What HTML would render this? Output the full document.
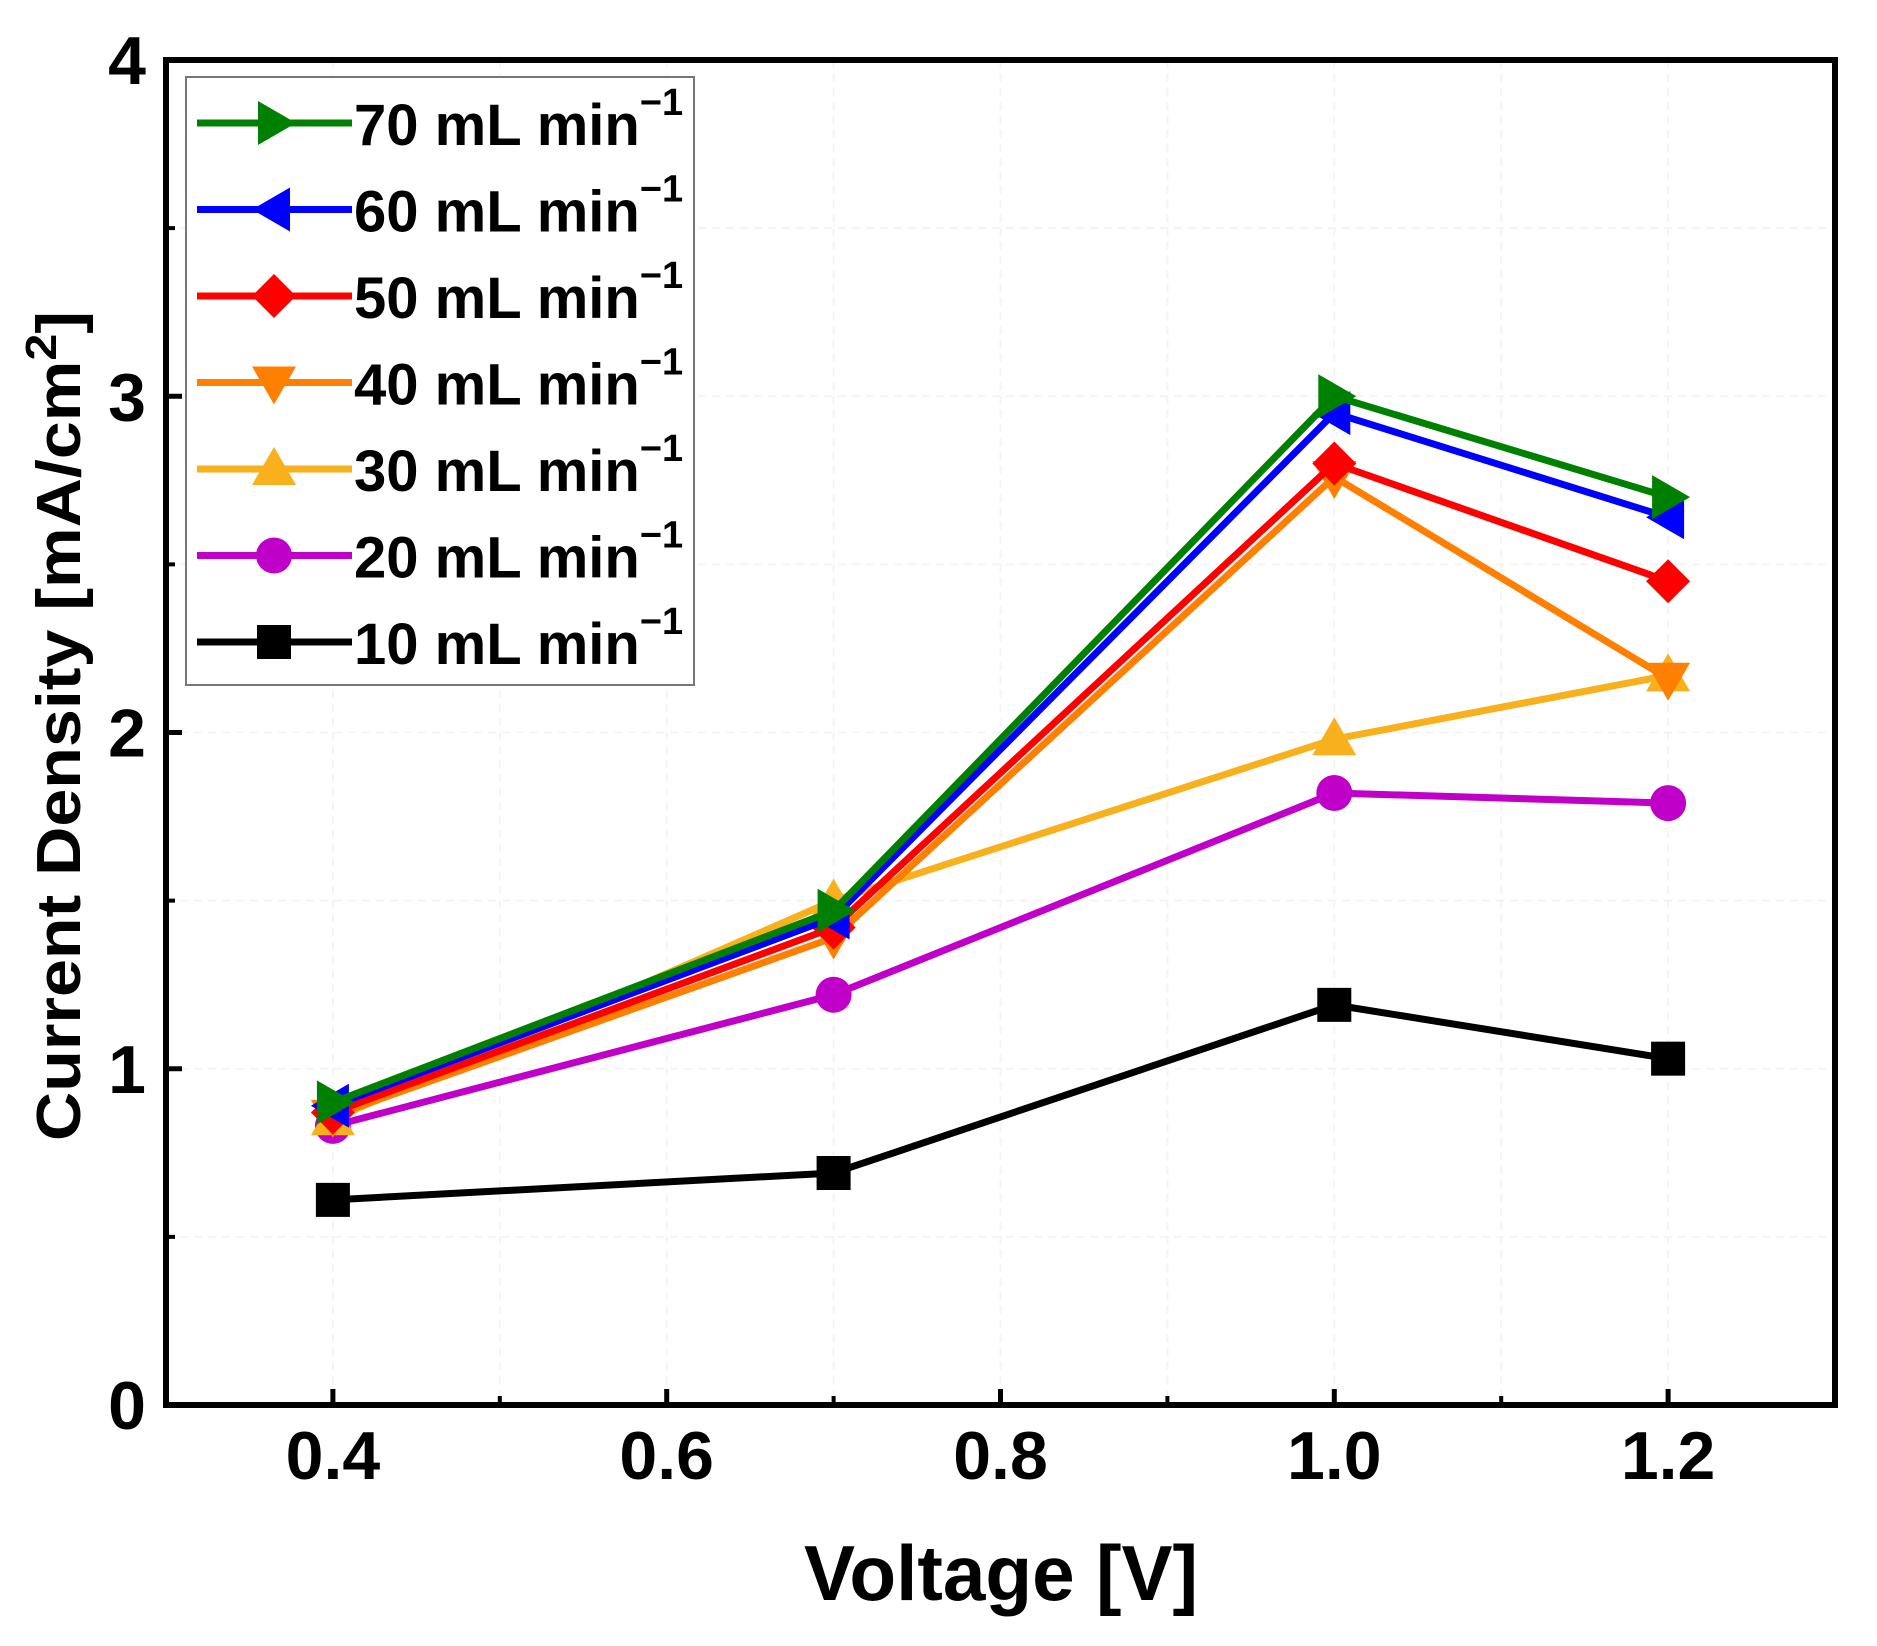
<!DOCTYPE html>
<html><head><meta charset="utf-8"><style>
html,body{margin:0;padding:0;background:#fff;}
svg{display:block;font-family:"Liberation Sans",Arial,sans-serif;font-weight:bold;}
</style></head><body>
<svg id="chart" width="1877" height="1646" viewBox="0 0 1877 1646" xmlns="http://www.w3.org/2000/svg">
<g id="grid"></g>
<g id="series"></g>
<g id="axes"></g>
<g id="legend"></g>
</svg>
<script>
const voltages = [0.4, 0.7, 1.0, 1.2];
const seriesNames = ["10 mL min", "20 mL min", "30 mL min", "40 mL min", "50 mL min", "60 mL min", "70 mL min"];
const s10 = [0.61, 0.69, 1.19, 1.03];
const s20 = [0.83, 1.22, 1.82, 1.79];
const s30 = [0.85, 1.50, 1.98, 2.17];
const s40 = [0.86, 1.39, 2.76, 2.16];
const s50 = [0.87, 1.42, 2.80, 2.45];
const s60 = [0.89, 1.45, 2.95, 2.64];
const s70 = [0.90, 1.47, 3.00, 2.70];
const xTickLabels = ["0.4", "0.6", "0.8", "1.0", "1.2"];
const yTickLabels = ["0", "1", "2", "3", "4"];

const NS = "http://www.w3.org/2000/svg";
const L = 166, R = 1835, T = 60, B = 1405;
const xMin = 0.3, xMax = 1.3, yMin = 0, yMax = 4;
function xs(v){ return L + (v - xMin) / (xMax - xMin) * (R - L); }
function ys(v){ return B - (v - yMin) / (yMax - yMin) * (B - T); }
function el(tag, attrs, parent){
  const e = document.createElementNS(NS, tag);
  for (const k in attrs) e.setAttribute(k, attrs[k]);
  parent.appendChild(e);
  return e;
}
const colors = ["#000000", "#c000c8", "#f8b01c", "#ff8000", "#ff0000", "#0000ff", "#008000"];
const markers = ["square", "circle", "up", "down", "diamond", "left", "right"];
const data = [s10, s20, s30, s40, s50, s60, s70];

function marker(type, cx, cy, color, parent){
  const r = 20;
  let m;
  if (type === "square") m = el("rect", {x: cx - 17, y: cy - 17, width: 34, height: 34, fill: color}, parent);
  else if (type === "circle") m = el("circle", {cx: cx, cy: cy, r: 18, fill: color}, parent);
  else {
    let pts;
    if (type === "up") pts = [[cx, cy - r - 2], [cx + r + 2, cy + r - 4], [cx - r - 2, cy + r - 4]];
    else if (type === "down") pts = [[cx, cy + r + 2], [cx + r + 2, cy - r + 4], [cx - r - 2, cy - r + 4]];
    else if (type === "diamond") pts = [[cx, cy - r - 2], [cx + r + 2, cy], [cx, cy + r + 2], [cx - r - 2, cy]];
    else if (type === "left") pts = [[cx - r - 2, cy], [cx + r - 4, cy - r - 2], [cx + r - 4, cy + r + 2]];
    else pts = [[cx + r + 2, cy], [cx - r + 4, cy - r - 2], [cx - r + 4, cy + r + 2]];
    m = el("polygon", {points: pts.map(p => p.join(",")).join(" "), fill: color}, parent);
  }
  return m;
}

const grid = document.getElementById("grid");
for (let v = 0.4; v <= 1.21; v += 0.1) {
  const g = el("line", {x1: xs(v), x2: xs(v), y1: T, y2: B, stroke: "#f4f4f4", "stroke-width": 2, "stroke-dasharray": "8,6"}, grid);
  
  
}
for (let v = 0.5; v < 4; v += 0.5) {
  const g = el("line", {x1: L, x2: R, y1: ys(v), y2: ys(v), stroke: "#f4f4f4", "stroke-width": 2, "stroke-dasharray": "8,6"}, grid);
  
  
}

const sg = document.getElementById("series");
data.forEach((vals, i) => {
  const g = el("g", {}, sg);
  
  
  const pts = vals.map((v, j) => xs(voltages[j]) + "," + ys(v)).join(" ");
  const pl = el("polyline", {points: pts, fill: "none", stroke: colors[i], "stroke-width": 7, "stroke-linejoin": "round"}, g);
  
  
  vals.forEach((v, j) => {
    const m = marker(markers[i], xs(voltages[j]), ys(v), colors[i], g);
    
    
  });
});

const ax = document.getElementById("axes");
const frame = el("rect", {x: L, y: T, width: R - L, height: B - T, fill: "none", stroke: "#000", "stroke-width": 6}, ax);


xTickLabels.forEach((t) => {
  const v = parseFloat(t);
  const tk = el("line", {x1: xs(v), x2: xs(v), y1: B, y2: B - 16, stroke: "#000", "stroke-width": 5}, ax);
  
  
  const tx = el("text", {x: xs(v), y: 1479, "text-anchor": "middle", "font-size": 68}, ax);
  tx.textContent = t;
  
  
});
[0.5, 0.7, 0.9, 1.1].forEach(v => {
  const tk = el("line", {x1: xs(v), x2: xs(v), y1: B, y2: B - 9, stroke: "#000", "stroke-width": 4}, ax);
  
  
});
yTickLabels.forEach((t) => {
  const v = parseFloat(t);
  const tk = el("line", {x1: L, x2: L + 16, y1: ys(v), y2: ys(v), stroke: "#000", "stroke-width": 5}, ax);
  
  
  const tx = el("text", {x: 146, y: ys(v) + 24, "text-anchor": "end", "font-size": 68}, ax);
  tx.textContent = t;
  
  
});
[0.5, 1.5, 2.5, 3.5].forEach(v => {
  const tk = el("line", {x1: L, x2: L + 9, y1: ys(v), y2: ys(v), stroke: "#000", "stroke-width": 4}, ax);
  
  
});
const xt = el("text", {x: 1001, y: 1600, "text-anchor": "middle", "font-size": 78, textLength: 394, lengthAdjust: "spacingAndGlyphs"}, ax);
xt.textContent = "Voltage [V]";


const yt = el("text", {x: 0, y: 0, "text-anchor": "middle", "font-size": 62, transform: "translate(80,726) rotate(-90)", textLength: 830, lengthAdjust: "spacingAndGlyphs"}, ax);
yt.innerHTML = 'Current Density [mA/cm<tspan dy="-24" font-size="44">2</tspan><tspan dy="24">]</tspan>';



const lg = document.getElementById("legend");
const box = el("rect", {x: 186, y: 77, width: 508, height: 608, fill: "#fff", stroke: "#777", "stroke-width": 2}, lg);


for (let k = 0; k < 7; k++) {
  const i = 6 - k;
  const y = 123 + k * 86.5;
  const g = el("g", {}, lg);
  
  
  el("line", {x1: 197, x2: 352, y1: y, y2: y, stroke: colors[i], "stroke-width": 7}, g);
  marker(markers[i], 274, y, colors[i], g);
  const tx = el("text", {x: 354, y: y + 22, "font-size": 58}, g);
  tx.innerHTML = seriesNames[i] + '<tspan dy="-30" font-size="38">\u22121</tspan>';
}
</script>
</body></html>
